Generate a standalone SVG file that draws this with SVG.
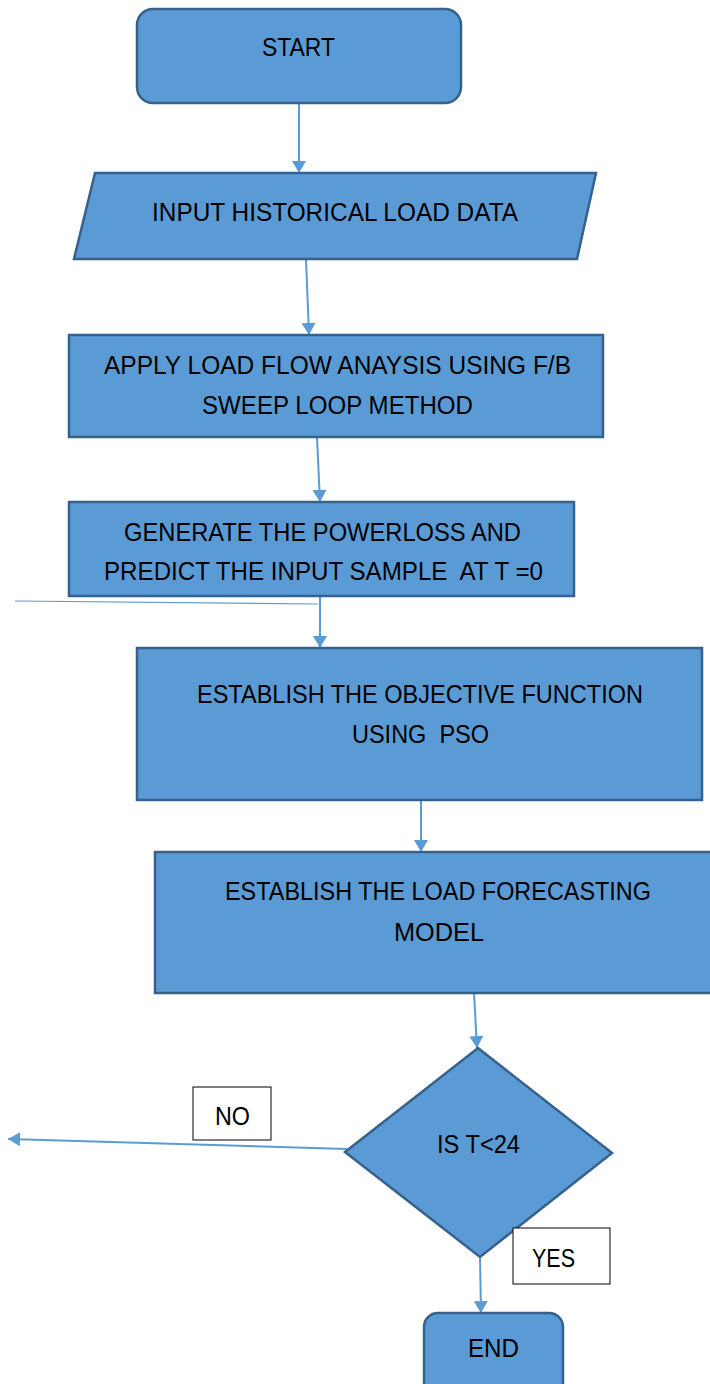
<svg xmlns="http://www.w3.org/2000/svg" width="710" height="1384" viewBox="0 0 710 1384">
<style>
.n{fill:#5B9BD5;stroke:#36618C;stroke-width:2.5}
.lb{fill:#ffffff;stroke:#000000;stroke-width:1}
.t{font-family:"Liberation Sans",Arial,sans-serif;font-size:26px;fill:#000000;text-anchor:middle;white-space:pre}
.c{fill:none;stroke:#5B9BD5;stroke-width:2}
</style>
<defs>
<marker id="ah" markerUnits="userSpaceOnUse" markerWidth="18" markerHeight="18" viewBox="0 0 18 18" refX="15" refY="9" orient="auto">
<path d="M3,2 L15,9 L3,16 Z" fill="#5B9BD5"/>
</marker>
</defs>
<rect width="710" height="1384" fill="#ffffff"/>
<g id="connectors">
<line class="c" x1="299" y1="103" x2="299" y2="173" marker-end="url(#ah)"/>
<line class="c" x1="306" y1="259" x2="309" y2="335" marker-end="url(#ah)"/>
<line class="c" x1="317" y1="437" x2="320" y2="502" marker-end="url(#ah)"/>
<line class="c" x1="320" y1="596" x2="320" y2="648" marker-end="url(#ah)"/>
<line class="c" x1="421" y1="800" x2="421" y2="852" marker-end="url(#ah)"/>
<line class="c" x1="474" y1="993" x2="477" y2="1048" marker-end="url(#ah)"/>
<line class="c" x1="480" y1="1257" x2="481" y2="1313" marker-end="url(#ah)"/>
<polyline class="c" points="347,1149 77,1141 8,1139" marker-end="url(#ah)"/>
<line x1="15" y1="601" x2="318" y2="604" stroke="#5B9BD5" stroke-width="1.2"/>
</g>
<g id="start">
<rect class="n" x="137" y="9" width="324" height="94" rx="16"/>
<text class="t" x="298.5" y="56" textLength="73" lengthAdjust="spacingAndGlyphs">START</text>
</g>
<g id="input">
<polygon class="n" points="95,173 596,173 577,259 74,259"/>
<text class="t" x="335" y="221" textLength="366" lengthAdjust="spacingAndGlyphs">INPUT HISTORICAL LOAD DATA</text>
</g>
<g id="loadflow">
<rect class="n" x="69" y="335" width="534" height="102"/>
<text class="t" x="337.5" y="374" textLength="467" lengthAdjust="spacingAndGlyphs">APPLY LOAD FLOW ANAYSIS USING F/B</text>
<text class="t" x="337.5" y="414" textLength="271" lengthAdjust="spacingAndGlyphs">SWEEP LOOP METHOD</text>
</g>
<g id="powerloss">
<rect class="n" x="69" y="502" width="505" height="94"/>
<text class="t" x="322.5" y="541" textLength="397" lengthAdjust="spacingAndGlyphs">GENERATE THE POWERLOSS AND</text>
<text class="t" x="323.5" y="580" textLength="439" lengthAdjust="spacingAndGlyphs">PREDICT THE INPUT SAMPLE  AT T =0</text>
</g>
<g id="objective">
<rect class="n" x="137" y="648" width="565" height="152"/>
<text class="t" x="420" y="703" textLength="446" lengthAdjust="spacingAndGlyphs">ESTABLISH THE OBJECTIVE FUNCTION</text>
<text class="t" x="420.5" y="743" textLength="137" lengthAdjust="spacingAndGlyphs">USING  PSO</text>
</g>
<g id="forecast">
<rect class="n" x="155" y="852" width="562" height="141"/>
<text class="t" x="438" y="900" textLength="426" lengthAdjust="spacingAndGlyphs">ESTABLISH THE LOAD FORECASTING</text>
<text class="t" x="439" y="941" textLength="90" lengthAdjust="spacingAndGlyphs">MODEL</text>
</g>
<g id="decision">
<polygon class="n" points="478,1048 612,1153 480,1257 345,1152"/>
<text class="t" x="478.5" y="1153" textLength="83" lengthAdjust="spacingAndGlyphs">IS T&lt;24</text>
</g>
<g id="no-label">
<rect class="lb" x="193" y="1087" width="78" height="53"/>
<text class="t" x="232.5" y="1125" textLength="35" lengthAdjust="spacingAndGlyphs">NO</text>
</g>
<g id="yes-label">
<rect class="lb" x="513" y="1228" width="97" height="56"/>
<text class="t" x="553.5" y="1267" textLength="43" lengthAdjust="spacingAndGlyphs">YES</text>
</g>
<g id="end">
<rect class="n" x="424" y="1313" width="139" height="85" rx="14"/>
<text class="t" x="493.5" y="1357" textLength="51" lengthAdjust="spacingAndGlyphs">END</text>
</g>
</svg>
